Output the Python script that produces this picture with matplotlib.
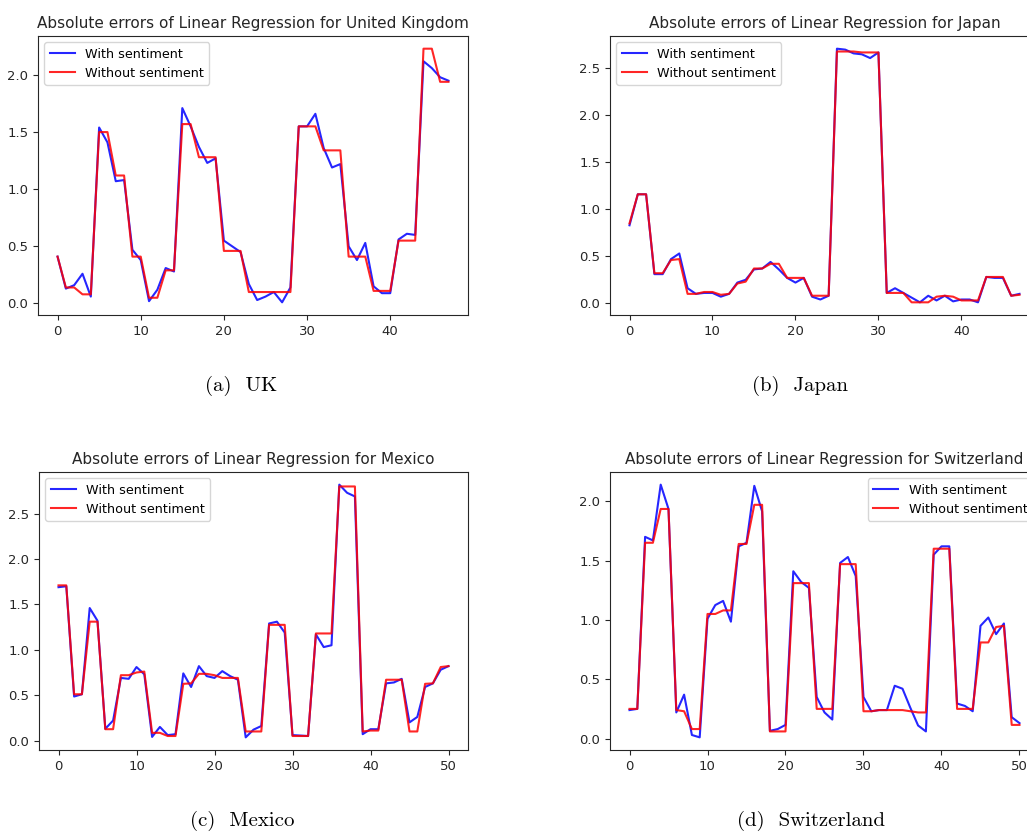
import matplotlib
matplotlib.use("Agg")
import matplotlib.pyplot as plt
import numpy as np

# ---------------- data ----------------
uk_with = [0.41, 0.13, 0.16, 0.26, 0.06, 1.54, 1.41, 1.07, 1.08, 0.47,
           0.38, 0.02, 0.12, 0.31, 0.28, 1.71, 1.55, 1.37, 1.23, 1.27,
           0.55, 0.50, 0.45, 0.17, 0.03, 0.06, 0.10, 0.01, 0.14, 1.55,
           1.55, 1.66, 1.36, 1.19, 1.22, 0.50, 0.38, 0.53, 0.15, 0.09,
           0.09, 0.56, 0.61, 0.60, 2.12, 2.06, 1.98, 1.95]
uk_without = [0.41, 0.14, 0.14, 0.08, 0.08, 1.50, 1.50, 1.12, 1.12, 0.41,
              0.41, 0.05, 0.05, 0.29, 0.29, 1.57, 1.57, 1.28, 1.28, 1.28,
              0.46, 0.46, 0.46, 0.10, 0.10, 0.10, 0.10, 0.10, 0.10, 1.55,
              1.55, 1.55, 1.34, 1.34, 1.34, 0.41, 0.41, 0.41, 0.11, 0.11,
              0.11, 0.55, 0.55, 0.55, 2.23, 2.23, 1.94, 1.94]

jp_with = [0.83, 1.16, 1.16, 0.31, 0.31, 0.47, 0.53, 0.16, 0.10, 0.11,
           0.11, 0.07, 0.10, 0.22, 0.25, 0.36, 0.37, 0.44, 0.36, 0.27,
           0.22, 0.27, 0.07, 0.04, 0.08, 2.71, 2.70, 2.66, 2.65, 2.61,
           2.67, 0.11, 0.16, 0.11, 0.06, 0.01, 0.08, 0.03, 0.08, 0.02,
           0.04, 0.04, 0.01, 0.28, 0.27, 0.27, 0.08, 0.10]
jp_without = [0.85, 1.16, 1.16, 0.32, 0.32, 0.46, 0.47, 0.10, 0.10, 0.12,
              0.12, 0.09, 0.10, 0.21, 0.23, 0.37, 0.37, 0.42, 0.42, 0.27,
              0.27, 0.27, 0.08, 0.08, 0.08, 2.68, 2.68, 2.68, 2.67, 2.67,
              2.67, 0.11, 0.11, 0.11, 0.01, 0.01, 0.01, 0.07, 0.08, 0.07,
              0.03, 0.03, 0.03, 0.28, 0.28, 0.28, 0.08, 0.09]

mx_with = [1.69, 1.70, 0.485, 0.51, 1.46, 1.32, 0.13, 0.22, 0.69, 0.68,
           0.81, 0.73, 0.04, 0.15, 0.06, 0.07, 0.74, 0.59, 0.82, 0.71,
           0.69, 0.765, 0.71, 0.67, 0.035, 0.12, 0.16, 1.29, 1.31, 1.19,
           0.06, 0.055, 0.05, 1.17, 1.03, 1.05, 2.82, 2.73, 2.69, 0.07,
           0.125, 0.125, 0.63, 0.64, 0.68, 0.20, 0.26, 0.59, 0.63, 0.78,
           0.82]
mx_without = [1.71, 1.71, 0.51, 0.51, 1.31, 1.31, 0.125, 0.125, 0.72, 0.72,
              0.75, 0.76, 0.085, 0.085, 0.05, 0.05, 0.625, 0.63, 0.735, 0.735,
              0.72, 0.69, 0.69, 0.69, 0.10, 0.10, 0.10, 1.275, 1.275, 1.275,
              0.05, 0.05, 0.05, 1.18, 1.18, 1.18, 2.80, 2.80, 2.80, 0.10,
              0.11, 0.11, 0.67, 0.67, 0.67, 0.10, 0.10, 0.625, 0.63, 0.81,
              0.82]

ch_with = [0.24, 0.25, 1.70, 1.67, 2.14, 1.935, 0.22, 0.37, 0.03, 0.01,
           1.01, 1.125, 1.16, 0.985, 1.62, 1.65, 2.13, 1.915, 0.065, 0.08,
           0.115, 1.41, 1.32, 1.27, 0.35, 0.22, 0.16, 1.48, 1.53, 1.37,
           0.35, 0.23, 0.24, 0.24, 0.445, 0.42, 0.26, 0.11, 0.06, 1.55,
           1.62, 1.62, 0.295, 0.275, 0.23, 0.95, 1.02, 0.88, 0.97, 0.18,
           0.13]
ch_without = [0.25, 0.25, 1.65, 1.65, 1.935, 1.935, 0.24, 0.23, 0.08, 0.08,
              1.05, 1.05, 1.08, 1.08, 1.64, 1.64, 1.97, 1.97, 0.06, 0.06,
              0.06, 1.31, 1.31, 1.31, 0.25, 0.25, 0.25, 1.47, 1.47, 1.47,
              0.23, 0.23, 0.24, 0.24, 0.24, 0.24, 0.23, 0.22, 0.22, 1.60,
              1.60, 1.60, 0.25, 0.25, 0.25, 0.81, 0.81, 0.94, 0.95, 0.115,
              0.115]

countries = ["United Kingdom", "Japan", "Mexico", "Switzerland"]
captions = ["(a)  UK", "(b)  Japan", "(c)  Mexico", "(d)  Switzerland"]
series_with = [uk_with, jp_with, mx_with, ch_with]
series_without = [uk_without, jp_without, mx_without, ch_without]
legend_locs = ["upper left", "upper left", "upper left", "upper right"]

# ---------------- layout (pixels) ----------------
W, H = 1027, 832
fig = plt.figure(figsize=(W / 100, H / 100), dpi=100)

boxes = [(38, 36, 468, 315), (610, 36, 1039, 315),
         (39, 472, 468, 750), (610, 472, 1039, 750)]
cap_pos = [(241, 386), (800, 386), (242, 821), (811, 821)]

for k in range(4):
    l, t, r, b = boxes[k]
    ax = fig.add_axes([l / W, 1 - b / H, (r - l) / W, (b - t) / H])
    x = np.arange(len(series_with[k]))
    ax.plot(x, series_with[k], color="blue", alpha=0.85, lw=1.5,
            label="With sentiment")
    ax.plot(x, series_without[k], color="red", alpha=0.85, lw=1.5,
            label="Without sentiment")
    ax.set_title("Absolute errors of Linear Regression for " + countries[k],
                 fontsize=11, color="#262626")
    ax.tick_params(labelsize=9.5, colors="#262626")
    ax.legend(loc=legend_locs[k], fontsize=9.2)
    for sp in ax.spines.values():
        sp.set_color("#262626")
    cx, cy = cap_pos[k]
    fig.text(cx / W, 1 - cy / H, captions[k], ha="center", va="center",
             family="cmr10", fontsize=15)

fig.savefig("out.png", dpi=100)
